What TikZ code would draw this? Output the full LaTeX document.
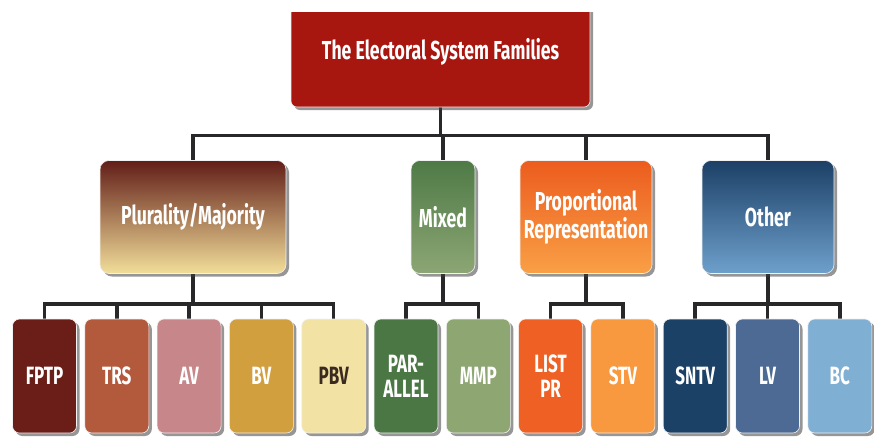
\documentclass[tikz,border=0pt]{standalone}
\usepackage{fontspec}
\setmainfont{Fira Sans}[FakeStretch=0.68]
\usepackage{tikz}
\usetikzlibrary{shadows, backgrounds, calc}
\definecolor{rojazo}{RGB}{168,22,16}
\definecolor{lineas}{RGB}{40,40,42}
\definecolor{textopbv}{RGB}{58,42,32}
\tikzset{box/.style={rounded corners=9pt, draw=white!90!gray, line width=0.6pt, text=white, align=center, inner sep=0pt, font=\bfseries\fontsize{26}{25}\selectfont, drop shadow={shadow xshift=3pt, shadow yshift=-3pt, opacity=0.55, fill=black!75}}}
\tikzset{family/.style={box, minimum height=113pt}}
\tikzset{leaf/.style={box, minimum width=64pt, minimum height=114pt, rounded corners=7pt, font=\bfseries\fontsize{25}{25}\selectfont}}
\tikzset{link/.style={line width=3.5pt, draw=lineas}}

\begin{document}
\begin{tikzpicture}[x=1pt, y=-1pt]
	\useasboundingbox (0,0) rectangle (874,437);
	\clip (0,12) rectangle (874,437);
	% top of the tree
	\node [box, fill=rojazo, minimum width=299pt, minimum height=110pt, rounded corners=6pt, font=\bfseries\fontsize{26}{25}\selectfont] (top) at (440.5,52) {The Electoral System Families};
	% families
	\node [family, minimum width=186pt, top color={rgb,255:red,98;green,30;blue,24}, middle color={rgb,255:red,158;green,88;blue,56}, bottom color={rgb,255:red,242;green,222;blue,154}] (plural) at (193,217) {Plurality/Majority};
	\node [family, minimum width=64pt, top color={rgb,255:red,78;green,122;blue,70}, bottom color={rgb,255:red,140;green,166;blue,116}] (mixed) at (443,217) {Mixed};
	\node [family, minimum width=132pt, top color={rgb,255:red,236;green,92;blue,30}, bottom color={rgb,255:red,249;green,160;blue,70}] (propr) at (586,217) {Proportional\\Representation};
	\node [family, minimum width=132pt, top color={rgb,255:red,28;green,64;blue,102}, bottom color={rgb,255:red,110;green,160;blue,204}] (other) at (768,217) {Other};
	% systems
	\node [leaf, fill={rgb,255:red,106;green,30;blue,23}] (fptp) at (44.5,376) {FPTP};
	\node [leaf, fill={rgb,255:red,179;green,90;blue,61}] (trs) at (116.8,376) {TRS};
	\node [leaf, fill={rgb,255:red,199;green,135;blue,138}] (av) at (189.1,376) {AV};
	\node [leaf, fill={rgb,255:red,210;green,159;blue,63}] (bv) at (261.4,376) {BV};
	\node [leaf, fill={rgb,255:red,242;green,226;blue,164}, text=textopbv] (pbv) at (333.7,376) {PBV};
	\node [leaf, fill={rgb,255:red,74;green,119;blue,68}] (parallel) at (406,376) {PAR-\\ALLEL};
	\node [leaf, fill={rgb,255:red,141;green,166;blue,114}] (mmp) at (478.3,376) {MMP};
	\node [leaf, fill={rgb,255:red,238;green,96;blue,35}] (listpr) at (550.6,376) {LIST\\PR};
	\node [leaf, fill={rgb,255:red,248;green,152;blue,63}] (stv) at (622.9,376) {STV};
	\node [leaf, fill={rgb,255:red,27;green,65;blue,102}] (sntv) at (695.2,376) {SNTV};
	\node [leaf, fill={rgb,255:red,76;green,106;blue,147}] (lv) at (767.5,376) {LV};
	\node [leaf, fill={rgb,255:red,128;green,175;blue,212}] (bc) at (839.8,376) {BC};
	% connectors
	\begin{scope}[on background layer]
	\foreach \c in {plural,mixed,propr,other}
		\draw [link] (top.south) -- ++(0,28) -| (\c.north);
	\foreach \c in {fptp,trs,av,bv,pbv}
		\draw [link] (plural.south) -- ++(0,30) -| (\c.north);
	\foreach \c in {parallel,mmp}
		\draw [link] (mixed.south) -- ++(0,30) -| (\c.north);
	\foreach \c in {listpr,stv}
		\draw [link] (propr.south) -- ++(0,30) -| (\c.north);
	\foreach \c in {sntv,lv,bc}
		\draw [link] (other.south) -- ++(0,30) -| (\c.north);
	\end{scope}
\end{tikzpicture}
\end{document}
